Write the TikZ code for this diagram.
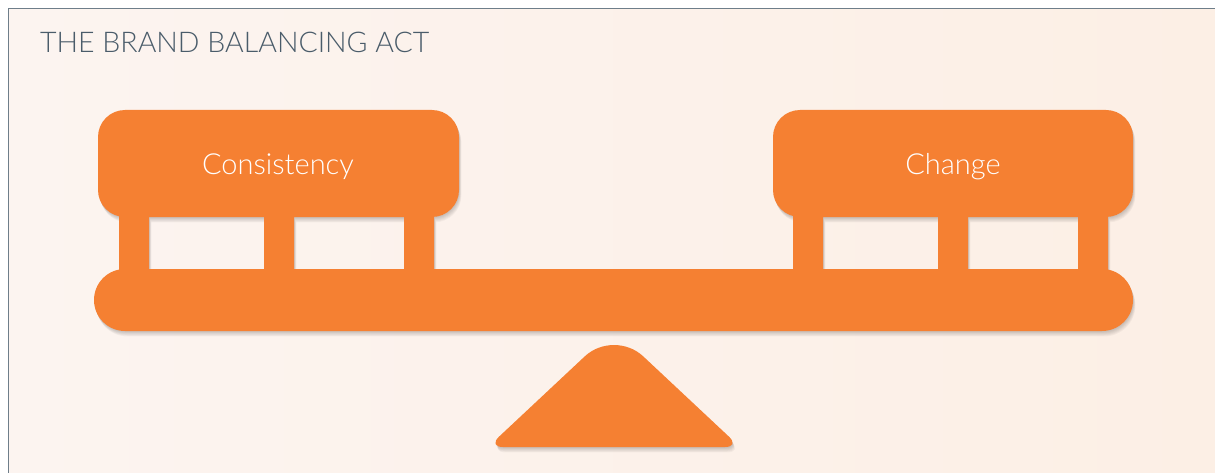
\documentclass[tikz,border=0pt]{standalone}
\usepackage{fontspec}
\setmainfont{Lato Light}
\definecolor{orangeA}{RGB}{245,128,50}
\definecolor{bgL}{RGB}{252,244,240}
\definecolor{bgM}{RGB}{254,250,247}
\definecolor{bgR}{RGB}{252,239,229}
\definecolor{frameC}{RGB}{110,126,138}
\definecolor{titleC}{RGB}{74,92,106}
\newcommand\mybeampath{
  [rounded corners=27pt] (98,255) rectangle (459,362)
  [rounded corners=27pt] (773,255) rectangle (1133,362)
  [sharp corners] (119,200) rectangle (149,258)
  (264,200) rectangle (294,258)
  (404,200) rectangle (434,258)
  (793,200) rectangle (823,258)
  (938,200) rectangle (968,258)
  (1078,200) rectangle (1108,258)
  [rounded corners=31pt] (94,141) rectangle (1133,203)}
\newcommand\myfulcrumpath{
  (614,25) [rounded corners=15pt] -- (488,25) [rounded corners=40pt] -- (614,143) [rounded corners=15pt] -- (740,25) [sharp corners] -- (614,25) -- cycle}
\tikzset{
  shadowpart/.style={fill=black, fill opacity=0.035},
  seesaw/.style={fill=orangeA},
  label/.style={text=white, font=\fontsize{29}{33}\selectfont, inner sep=0pt},
  titlestyle/.style={text=titleC, font=\fontsize{28.5}{32}\selectfont, inner sep=0pt, anchor=base west}
}
\begin{document}
\begin{tikzpicture}[x=1pt,y=1pt]
\useasboundingbox (0,0) rectangle (1215,472);
\fill[white] (0,0) rectangle (1215,472);
\shade[left color=bgL, middle color=bgM, right color=bgR] (8.5,-2) rectangle (1217,463.5);
\draw[frameC, line width=1.5pt] (1217,463.5) -- (8.5,463.5) -- (8.5,-2);
% soft shadows
\foreach \s in {1,2,3,4,5,6} {
  \begin{scope}[xshift={0.4*\s pt}, yshift={-0.9*\s pt}]
    \path[shadowpart] \mybeampath;
    \path[shadowpart] \myfulcrumpath;
  \end{scope}
}
% balance beam with boxes and legs
\path[seesaw] \mybeampath;
% fulcrum
\path[seesaw] \myfulcrumpath;
\node[label] (consistency) at (278,305) {Consistency};
\node[label] (change) at (953,305) {Change};
\node[titlestyle] (title) at (40,419) {THE BRAND BALANCING ACT};
\end{tikzpicture}
\end{document}
